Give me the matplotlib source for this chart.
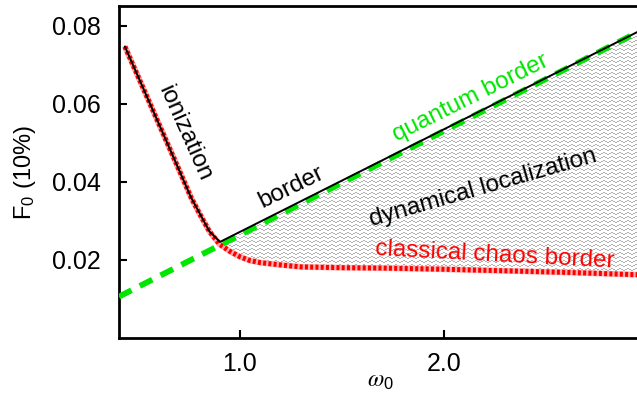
import numpy as np
import matplotlib
matplotlib.use("Agg")
import matplotlib.pyplot as plt

plt.rcParams['font.family'] = ['Liberation Sans', 'DejaVu Sans']
plt.rcParams['mathtext.fontset'] = 'stix'

# classical chaos border (red)
red_x = [0.436, 0.50, 0.60, 0.70, 0.76, 0.80, 0.85, 0.90, 0.95, 1.00, 1.05,
         1.10, 1.20, 1.30, 1.50, 1.70, 2.00, 2.30, 2.60, 2.95]
red_y = [0.0746, 0.0670, 0.0551, 0.0432, 0.0360, 0.0320, 0.0273, 0.0240,
         0.0222, 0.0208, 0.0198, 0.0193, 0.0187, 0.0182, 0.0180, 0.0179,
         0.0176, 0.0172, 0.0168, 0.0162]
# ionization + border (black)
black_x = [0.436, 0.60, 0.76, 0.85, 0.902, 2.95]
black_y = [0.0746, 0.0551, 0.0360, 0.0273, 0.0246, 0.0784]
# quantum border (green)
green_x = [0.407, 2.95]
green_y = [0.0106, 0.0783]

xticks = [1.0, 2.0]
xticklabels = ['1.0', '2.0']
yticks = [0.02, 0.04, 0.06, 0.08]
yticklabels = ['0.02', '0.04', '0.06', '0.08']

W, H = 637, 394
fig = plt.figure(figsize=(W / 100, H / 100), dpi=100)
ax = fig.add_axes([119 / W, (H - 338) / H, 1 - 119 / W, (338 - 6) / H])
xlim = (0.407, 2.946)
ylim = (0.0, 0.085)
ax.set_xlim(*xlim)
ax.set_ylim(*ylim)

# hatched region between chaos border and quantum border
knee = black_x[-2]
fx = np.array([knee] + [x for x in red_x if x > knee])
fy_low = np.interp(fx, red_x, red_y)
fy_high = np.interp(fx, black_x, black_y)
poly = ax.fill_between(fx, fy_low, fy_high, facecolor='none', edgecolor='none')

pw, ph = 518, 332
cols = np.arange(pw)
rows = np.arange(ph)[:, None]
wave = np.array([0, 0, 1, 1, 2, 2, 1, 1])[cols % 8]
tex = ((rows + wave[None, :]) % 4 == 0)
img = np.ones((ph, pw, 3))
img[tex] = 0.70
im = ax.imshow(img, extent=(xlim[0], xlim[1], ylim[0], ylim[1]), aspect='auto',
               interpolation='nearest', zorder=1, origin='upper')
im.set_clip_path(poly.get_paths()[0], transform=ax.transData)
ax.set_xlim(*xlim)
ax.set_ylim(*ylim)

ax.plot(red_x, red_y, color='#ffb0b0', lw=4.2, zorder=2, solid_capstyle='butt')
ax.plot(red_x, red_y, color='red', lw=3.6, ls=(0, (0.6, 0.45)), zorder=3)
ax.plot(green_x, green_y, color='#00e600', lw=4.2, ls=(0, (2.4, 1.6)), zorder=4)
ax.plot(black_x, black_y, color='black', lw=1.4, zorder=5)

fs = 17.5
ax.text(0.727, 0.0525, 'ionization', rotation=-66, ha='center', va='center',
        fontsize=fs, color='black')
ax.text(1.25, 0.0385, 'border', rotation=26, ha='center', va='center',
        fontsize=fs, color='black')
ax.text(2.13, 0.0615, 'quantum border', rotation=26.5, ha='center', va='center',
        fontsize=fs, color='#00e600')
ax.text(2.19, 0.0385, 'dynamical localization', rotation=16, ha='center',
        va='center', fontsize=fs, color='black')
ax.text(2.25, 0.0212, 'classical chaos border', rotation=-3, ha='center',
        va='center', fontsize=fs, color='red')

ax.set_xticks(xticks)
ax.set_xticklabels(xticklabels)
ax.set_yticks(yticks)
ax.set_yticklabels(yticklabels)
ax.tick_params(direction='in', length=6, width=1.5, labelsize=18,
               top=False, right=False)
ax.tick_params(axis='y', pad=13)
ax.tick_params(axis='x', pad=10)
for s in ['left', 'bottom', 'top']:
    ax.spines[s].set_linewidth(2)
ax.spines['right'].set_visible(False)

fig.text(380 / W, 1 - 392 / H, r'$\omega_\mathregular{0}$', fontsize=17,
         ha='center', va='bottom')
ax.set_ylabel(r'F$_\mathregular{0}$ (10%)', fontsize=17, labelpad=10)

fig.savefig('out.png', dpi=100)
